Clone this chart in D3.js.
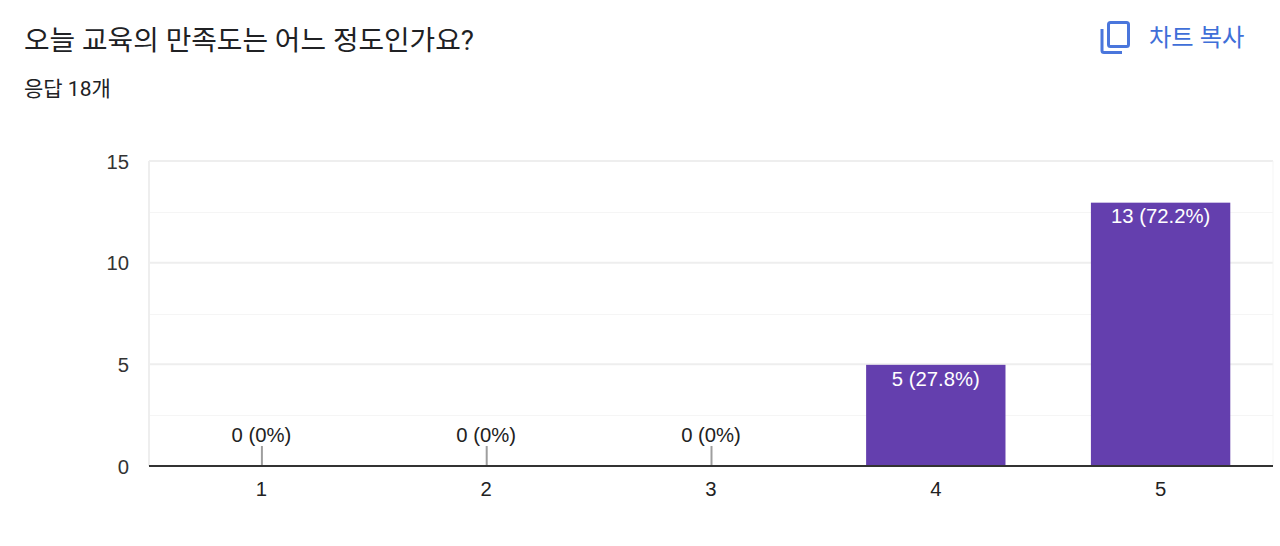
<!DOCTYPE html>
<html>
<head>
<meta charset="utf-8">
<script src="https://cdn.jsdelivr.net/npm/d3@7"></script>
<style>
    html, body { margin: 0; padding: 0; background: #fff; overflow: hidden; }
    text { font-family: "Liberation Sans", Arial, sans-serif; }
    .kr { font-family: Roboto, "Noto Sans CJK KR", sans-serif; }
</style>
</head>
<body>
<div id="chart"></div>
<script>
const categories = ["1", "2", "3", "4", "5"];
const counts = [0, 0, 0, 5, 13];
const labels = ["0 (0%)", "0 (0%)", "0 (0%)", "5 (27.8%)", "13 (72.2%)"];
const yTicks = [0, 5, 10, 15];
const yMinorTicks = [2.5, 7.5, 12.5];

const width = 1280, height = 546;
const margin = { top: 161, right: 7, bottom: 80, left: 149 };

const svg = d3.select("#chart").append("svg")
    .attr("width", width)
    .attr("height", height);

svg.append("text").attr("class", "kr")
    .attr("x", 24).attr("y", 50)
    .attr("font-size", 27.8).attr("fill", "#202124")
    .text("오늘 교육의 만족도는 어느 정도인가요?");

svg.append("text").attr("class", "kr")
    .attr("x", 24).attr("y", 96)
    .attr("font-size", 21).attr("fill", "#202124")
    .text("응답 18개");

svg.append("text").attr("class", "kr")
    .attr("x", 1149).attr("y", 46)
    .attr("font-size", 24.3).attr("fill", "#3f6fd8")
    .text("차트 복사");

// copy icon
const icon = svg.append("g").attr("fill", "none").attr("stroke", "#4a76dc").attr("stroke-width", 3);
icon.append("rect").attr("x", 1108.5).attr("y", 22.5).attr("width", 20).attr("height", 24).attr("rx", 2);
icon.append("path").attr("d", "M1102,29V50.5a2,2 0 0 0 2,2H1122");

const x = d3.scaleBand()
    .domain(categories)
    .range([margin.left, width - margin.right])
    .paddingInner(0.38)
    .paddingOuter(0.19);

const y = d3.scaleLinear()
    .domain([0, 15])
    .range([height - margin.bottom, margin.top]);

// gridlines
svg.selectAll(".minor").data(yMinorTicks).enter().append("line")
    .attr("class", "minor")
    .attr("x1", margin.left).attr("x2", width - margin.right)
    .attr("y1", d => Math.round(y(d)) + 0.5).attr("y2", d => Math.round(y(d)) + 0.5)
    .attr("stroke", "#f5f5f5");

svg.selectAll(".major").data(yTicks.filter(d => d > 0)).enter().append("line")
    .attr("class", "major")
    .attr("x1", margin.left).attr("x2", width - margin.right)
    .attr("y1", d => y(d)).attr("y2", d => y(d))
    .attr("stroke", "#eeeeee").attr("stroke-width", 2);

svg.append("line")
    .attr("x1", margin.left).attr("x2", margin.left)
    .attr("y1", margin.top).attr("y2", y(0))
    .attr("stroke", "#eeeeee").attr("stroke-width", 2);

svg.append("line")
    .attr("x1", width - margin.right).attr("x2", width - margin.right)
    .attr("y1", margin.top).attr("y2", y(0))
    .attr("stroke", "#f5f5f5");

svg.selectAll(".bar").data(categories).enter().append("rect")
    .attr("class", "bar")
    .attr("x", d => x(d))
    .attr("y", (d, i) => y(counts[i]) + (counts[i] > 5 ? 1 : 0.5))
    .attr("width", x.bandwidth())
    .attr("height", (d, i) => Math.max(0, y(0) - y(counts[i]) - 1))
    .attr("fill", "#643fae");

// little leader lines on the empty bars
svg.selectAll(".leader").data(categories.filter((d, i) => counts[i] === 0)).enter().append("line")
    .attr("class", "leader")
    .attr("x1", d => x(d) + x.bandwidth() / 2 + 0.5).attr("x2", d => x(d) + x.bandwidth() / 2 + 0.5)
    .attr("y1", y(0) - 20).attr("y2", y(0))
    .attr("stroke", "#9e9e9e").attr("stroke-width", 2);

svg.append("line")
    .attr("x1", margin.left).attr("x2", width - margin.right)
    .attr("y1", y(0)).attr("y2", y(0))
    .attr("stroke", "#333").attr("stroke-width", 2);

svg.selectAll(".val").data(categories).enter().append("text")
    .attr("class", "val")
    .attr("x", d => x(d) + x.bandwidth() / 2)
    .attr("y", (d, i) => counts[i] === 0 ? y(0) - 24.5 : y(counts[i]) + 21.5)
    .attr("text-anchor", "middle")
    .attr("font-size", 20.3)
    .attr("fill", (d, i) => counts[i] === 0 ? "#222" : "#fff")
    .text((d, i) => labels[i]);

// axes labels
svg.selectAll(".ytick").data(yTicks).enter().append("text")
    .attr("class", "ytick")
    .attr("x", 129)
    .attr("y", d => y(d) + 7.5)
    .attr("text-anchor", "end")
    .attr("font-size", 20.3).attr("fill", "#333")
    .text(d => d);

svg.selectAll(".xtick").data(categories).enter().append("text")
    .attr("class", "xtick")
    .attr("x", d => x(d) + x.bandwidth() / 2)
    .attr("y", 496)
    .attr("text-anchor", "middle")
    .attr("font-size", 20.3).attr("fill", "#222")
    .text(d => d);
</script>
</body>
</html>
